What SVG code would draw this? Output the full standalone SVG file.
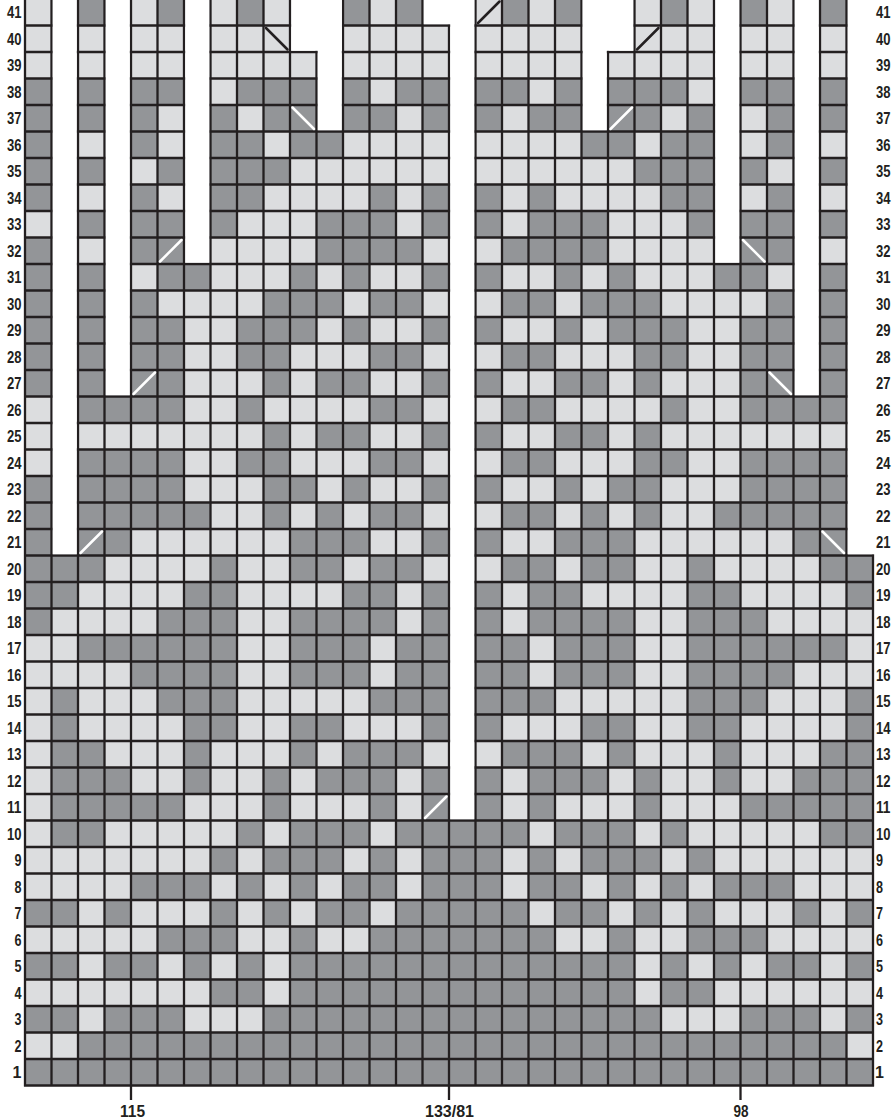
<svg xmlns="http://www.w3.org/2000/svg" width="893" height="1120" viewBox="0 0 893 1120">
<style>
.bg{fill:#dcdddf}
.dk{fill:#939598}
.grid{fill:none;stroke:#231f20;stroke-width:2.3}
.gap{fill:#fff}
.dw{stroke:#fff;stroke-width:2.5;stroke-linecap:round}
.db{stroke:#231f20;stroke-width:2.5;stroke-linecap:round}
.tick{fill:none;stroke:#231f20;stroke-width:2.3}
text{font-family:"Liberation Sans Narrow","Liberation Sans",sans-serif;font-weight:bold;font-size:16px;fill:#231f20}
.l{text-anchor:end}
.b{text-anchor:middle}
</style>
<rect width="893" height="1120" fill="#fff"/>
<g id="chart">
<rect class="bg" x="25" y="-1" width="848" height="1086.5"/>
<g id="dark-cells" class="dk">
<path id="r1" d="M25 1059h848v26.5h-848z"/>
<path id="r2" d="M78 1032.5h768.5v26.5h-768.5z"/>
<path id="r3" d="M25 1006h53v26.5h-53zM104.5 1006h79.5v26.5h-79.5zM263.5 1006h397.5v26.5h-397.5zM740.5 1006h79.5v26.5h-79.5zM846.5 1006h26.5v26.5h-26.5z"/>
<path id="r4" d="M210.5 979.5h53v26.5h-53zM290 979.5h344.5v26.5h-344.5zM661 979.5h53v26.5h-53z"/>
<path id="r5" d="M25 953h53v26.5h-53zM104.5 953h53v26.5h-53zM184 953h26.5v26.5h-26.5zM237 953h26.5v26.5h-26.5zM290 953h344.5v26.5h-344.5zM661 953h26.5v26.5h-26.5zM714 953h26.5v26.5h-26.5zM767 953h53v26.5h-53zM846.5 953h26.5v26.5h-26.5z"/>
<path id="r6" d="M157.5 926.5h79.5v26.5h-79.5zM290 926.5h26.5v26.5h-26.5zM369.5 926.5h185.5v26.5h-185.5zM608 926.5h26.5v26.5h-26.5zM687.5 926.5h79.5v26.5h-79.5z"/>
<path id="r7" d="M25 900h53v26.5h-53zM104.5 900h26.5v26.5h-26.5zM210.5 900h26.5v26.5h-26.5zM263.5 900h26.5v26.5h-26.5zM316.5 900h53v26.5h-53zM396 900h132.5v26.5h-132.5zM555 900h53v26.5h-53zM634.5 900h26.5v26.5h-26.5zM687.5 900h26.5v26.5h-26.5zM793.5 900h26.5v26.5h-26.5zM846.5 900h26.5v26.5h-26.5z"/>
<path id="r8" d="M131 873.5h79.5v26.5h-79.5zM237 873.5h26.5v26.5h-26.5zM290 873.5h26.5v26.5h-26.5zM343 873.5h53v26.5h-53zM422.5 873.5h79.5v26.5h-79.5zM528.5 873.5h53v26.5h-53zM608 873.5h26.5v26.5h-26.5zM661 873.5h26.5v26.5h-26.5zM714 873.5h79.5v26.5h-79.5z"/>
<path id="r9" d="M210.5 847h26.5v26.5h-26.5zM263.5 847h79.5v26.5h-79.5zM369.5 847h26.5v26.5h-26.5zM422.5 847h79.5v26.5h-79.5zM528.5 847h26.5v26.5h-26.5zM581.5 847h79.5v26.5h-79.5zM687.5 847h26.5v26.5h-26.5z"/>
<path id="r10" d="M51.5 820.5h53v26.5h-53zM237 820.5h26.5v26.5h-26.5zM290 820.5h79.5v26.5h-79.5zM396 820.5h132.5v26.5h-132.5zM555 820.5h79.5v26.5h-79.5zM661 820.5h26.5v26.5h-26.5zM820 820.5h53v26.5h-53z"/>
<path id="r11" d="M51.5 794h132.5v26.5h-132.5zM263.5 794h26.5v26.5h-26.5zM369.5 794h26.5v26.5h-26.5zM422.5 794h79.5v26.5h-79.5zM528.5 794h26.5v26.5h-26.5zM634.5 794h26.5v26.5h-26.5zM740.5 794h132.5v26.5h-132.5z"/>
<path id="r12" d="M51.5 767.5h79.5v26.5h-79.5zM184 767.5h26.5v26.5h-26.5zM263.5 767.5h26.5v26.5h-26.5zM316.5 767.5h79.5v26.5h-79.5zM422.5 767.5h79.5v26.5h-79.5zM528.5 767.5h79.5v26.5h-79.5zM634.5 767.5h26.5v26.5h-26.5zM714 767.5h26.5v26.5h-26.5zM793.5 767.5h79.5v26.5h-79.5z"/>
<path id="r13" d="M51.5 741h53v26.5h-53zM184 741h26.5v26.5h-26.5zM290 741h26.5v26.5h-26.5zM343 741h79.5v26.5h-79.5zM502 741h79.5v26.5h-79.5zM608 741h26.5v26.5h-26.5zM714 741h26.5v26.5h-26.5zM820 741h53v26.5h-53z"/>
<path id="r14" d="M51.5 714.5h26.5v26.5h-26.5zM184 714.5h53v26.5h-53zM290 714.5h53v26.5h-53zM422.5 714.5h79.5v26.5h-79.5zM581.5 714.5h53v26.5h-53zM687.5 714.5h53v26.5h-53zM846.5 714.5h26.5v26.5h-26.5z"/>
<path id="r15" d="M51.5 688h26.5v26.5h-26.5zM157.5 688h79.5v26.5h-79.5zM369.5 688h185.5v26.5h-185.5zM687.5 688h79.5v26.5h-79.5zM846.5 688h26.5v26.5h-26.5z"/>
<path id="r16" d="M131 661.5h106v26.5h-106zM290 661.5h79.5v26.5h-79.5zM396 661.5h132.5v26.5h-132.5zM555 661.5h79.5v26.5h-79.5zM687.5 661.5h106v26.5h-106z"/>
<path id="r17" d="M78 635h159v26.5h-159zM290 635h79.5v26.5h-79.5zM396 635h132.5v26.5h-132.5zM555 635h79.5v26.5h-79.5zM687.5 635h159v26.5h-159z"/>
<path id="r18" d="M25 608.5h26.5v26.5h-26.5zM157.5 608.5h79.5v26.5h-79.5zM290 608.5h106v26.5h-106zM422.5 608.5h79.5v26.5h-79.5zM528.5 608.5h106v26.5h-106zM687.5 608.5h79.5v26.5h-79.5z"/>
<path id="r19" d="M25 582h53v26.5h-53zM184 582h53v26.5h-53zM343 582h53v26.5h-53zM422.5 582h79.5v26.5h-79.5zM528.5 582h53v26.5h-53zM687.5 582h53v26.5h-53zM846.5 582h26.5v26.5h-26.5z"/>
<path id="r20" d="M25 555.5h79.5v26.5h-79.5zM210.5 555.5h26.5v26.5h-26.5zM290 555.5h53v26.5h-53zM369.5 555.5h53v26.5h-53zM502 555.5h53v26.5h-53zM581.5 555.5h53v26.5h-53zM687.5 555.5h26.5v26.5h-26.5zM820 555.5h53v26.5h-53z"/>
<path id="r21" d="M25 529h106v26.5h-106zM290 529h79.5v26.5h-79.5zM422.5 529h79.5v26.5h-79.5zM555 529h79.5v26.5h-79.5zM793.5 529h53v26.5h-53z"/>
<path id="r22" d="M25 502.5h185.5v26.5h-185.5zM263.5 502.5h26.5v26.5h-26.5zM316.5 502.5h26.5v26.5h-26.5zM369.5 502.5h53v26.5h-53zM502 502.5h53v26.5h-53zM581.5 502.5h26.5v26.5h-26.5zM634.5 502.5h26.5v26.5h-26.5zM714 502.5h132.5v26.5h-132.5z"/>
<path id="r23" d="M25 476h159v26.5h-159zM263.5 476h53v26.5h-53zM343 476h26.5v26.5h-26.5zM422.5 476h79.5v26.5h-79.5zM555 476h26.5v26.5h-26.5zM608 476h53v26.5h-53zM740.5 476h106v26.5h-106z"/>
<path id="r24" d="M51.5 449.5h132.5v26.5h-132.5zM237 449.5h53v26.5h-53zM369.5 449.5h53v26.5h-53zM502 449.5h53v26.5h-53zM634.5 449.5h53v26.5h-53zM740.5 449.5h106v26.5h-106z"/>
<path id="r25" d="M263.5 423h26.5v26.5h-26.5zM316.5 423h53v26.5h-53zM422.5 423h79.5v26.5h-79.5zM555 423h53v26.5h-53zM634.5 423h26.5v26.5h-26.5z"/>
<path id="r26" d="M78 396.5h106v26.5h-106zM237 396.5h26.5v26.5h-26.5zM369.5 396.5h53v26.5h-53zM502 396.5h53v26.5h-53zM661 396.5h26.5v26.5h-26.5zM740.5 396.5h106v26.5h-106z"/>
<path id="r27" d="M25 370h159v26.5h-159zM263.5 370h26.5v26.5h-26.5zM316.5 370h53v26.5h-53zM422.5 370h79.5v26.5h-79.5zM555 370h53v26.5h-53zM634.5 370h26.5v26.5h-26.5zM740.5 370h132.5v26.5h-132.5z"/>
<path id="r28" d="M25 343.5h159v26.5h-159zM237 343.5h53v26.5h-53zM369.5 343.5h53v26.5h-53zM502 343.5h53v26.5h-53zM634.5 343.5h53v26.5h-53zM740.5 343.5h132.5v26.5h-132.5z"/>
<path id="r29" d="M25 317h159v26.5h-159zM237 317h79.5v26.5h-79.5zM343 317h26.5v26.5h-26.5zM422.5 317h79.5v26.5h-79.5zM555 317h26.5v26.5h-26.5zM608 317h79.5v26.5h-79.5zM740.5 317h132.5v26.5h-132.5z"/>
<path id="r30" d="M25 290.5h132.5v26.5h-132.5zM263.5 290.5h79.5v26.5h-79.5zM369.5 290.5h53v26.5h-53zM502 290.5h53v26.5h-53zM581.5 290.5h79.5v26.5h-79.5zM767 290.5h106v26.5h-106z"/>
<path id="r31" d="M25 264h106v26.5h-106zM157.5 264h53v26.5h-53zM290 264h26.5v26.5h-26.5zM343 264h26.5v26.5h-26.5zM422.5 264h79.5v26.5h-79.5zM555 264h26.5v26.5h-26.5zM608 264h26.5v26.5h-26.5zM714 264h53v26.5h-53zM793.5 264h79.5v26.5h-79.5z"/>
<path id="r32" d="M25 237.5h53v26.5h-53zM104.5 237.5h106v26.5h-106zM316.5 237.5h106v26.5h-106zM502 237.5h106v26.5h-106zM714 237.5h106v26.5h-106z"/>
<path id="r33" d="M51.5 211h185.5v26.5h-185.5zM316.5 211h79.5v26.5h-79.5zM422.5 211h79.5v26.5h-79.5zM528.5 211h79.5v26.5h-79.5zM687.5 211h185.5v26.5h-185.5z"/>
<path id="r34" d="M25 184.5h53v26.5h-53zM104.5 184.5h53v26.5h-53zM184 184.5h79.5v26.5h-79.5zM369.5 184.5h26.5v26.5h-26.5zM422.5 184.5h79.5v26.5h-79.5zM528.5 184.5h26.5v26.5h-26.5zM661 184.5h79.5v26.5h-79.5zM767 184.5h53v26.5h-53z"/>
<path id="r35" d="M25 158h106v26.5h-106zM157.5 158h132.5v26.5h-132.5zM634.5 158h132.5v26.5h-132.5zM793.5 158h79.5v26.5h-79.5z"/>
<path id="r36" d="M25 131.5h53v26.5h-53zM104.5 131.5h53v26.5h-53zM184 131.5h79.5v26.5h-79.5zM290 131.5h53v26.5h-53zM581.5 131.5h53v26.5h-53zM661 131.5h79.5v26.5h-79.5zM767 131.5h53v26.5h-53z"/>
<path id="r37" d="M25 105h132.5v26.5h-132.5zM184 105h53v26.5h-53zM263.5 105h132.5v26.5h-132.5zM422.5 105h79.5v26.5h-79.5zM528.5 105h132.5v26.5h-132.5zM687.5 105h53v26.5h-53zM767 105h106v26.5h-106z"/>
<path id="r38" d="M25 78.5h185.5v26.5h-185.5zM237 78.5h132.5v26.5h-132.5zM396 78.5h132.5v26.5h-132.5zM555 78.5h132.5v26.5h-132.5zM714 78.5h159v26.5h-159z"/>
<path id="r41" d="M51.5 -1h79.5v26.5h-79.5zM157.5 -1h53v26.5h-53zM237 -1h26.5v26.5h-26.5zM290 -1h79.5v26.5h-79.5zM396 -1h79.5v26.5h-79.5zM502 -1h26.5v26.5h-26.5zM555 -1h79.5v26.5h-79.5zM661 -1h26.5v26.5h-26.5zM714 -1h53v26.5h-53zM793.5 -1h79.5v26.5h-79.5z"/>
</g>
<path id="grid-lines" class="grid" d="M24 1085.5H874M24 1059H874M24 1032.5H874M24 1006H874M24 979.5H874M24 953H874M24 926.5H874M24 900H874M24 873.5H874M24 847H874M24 820.5H874M24 794H874M24 767.5H874M24 741H874M24 714.5H874M24 688H874M24 661.5H874M24 635H874M24 608.5H874M24 582H874M24 555.5H874M24 529H874M24 502.5H874M24 476H874M24 449.5H874M24 423H874M24 396.5H874M24 370H874M24 343.5H874M24 317H874M24 290.5H874M24 264H874M24 237.5H874M24 211H874M24 184.5H874M24 158H874M24 131.5H874M24 105H874M24 78.5H874M24 52H874M24 25.5H874M25 -2V1086.5M51.5 -2V1086.5M78 -2V1086.5M104.5 -2V1086.5M131 -2V1086.5M157.5 -2V1086.5M184 -2V1086.5M210.5 -2V1086.5M237 -2V1086.5M263.5 -2V1086.5M290 -2V1086.5M316.5 -2V1086.5M343 -2V1086.5M369.5 -2V1086.5M396 -2V1086.5M422.5 -2V1086.5M449 -2V1086.5M475.5 -2V1086.5M502 -2V1086.5M528.5 -2V1086.5M555 -2V1086.5M581.5 -2V1086.5M608 -2V1086.5M634.5 -2V1086.5M661 -2V1086.5M687.5 -2V1086.5M714 -2V1086.5M740.5 -2V1086.5M767 -2V1086.5M793.5 -2V1086.5M820 -2V1086.5M846.5 -2V1086.5M873 -2V1086.5"/>
<g id="gaps" class="gap">
<rect x="52.7" y="-2" width="24.1" height="556.3"/>
<rect x="105.7" y="-2" width="24.1" height="397.3"/>
<rect x="185.2" y="-2" width="24.1" height="264.8"/>
<rect x="291.2" y="-2" width="50.6" height="52.8"/>
<rect x="317.7" y="-2" width="24.1" height="132.3"/>
<rect x="423.7" y="-2" width="50.6" height="26.3"/>
<rect x="450.2" y="-2" width="24.1" height="821.3"/>
<rect x="582.7" y="-2" width="50.6" height="52.8"/>
<rect x="582.7" y="-2" width="24.1" height="132.3"/>
<rect x="715.2" y="-2" width="24.1" height="264.8"/>
<rect x="794.7" y="-2" width="24.1" height="397.3"/>
<rect x="847.7" y="-2" width="27.3" height="556.3"/>
</g>
<g id="decreases">
<line class="dw" x1="425" y1="818" x2="446.5" y2="796.5"/>
<line class="dw" x1="80.5" y1="553" x2="102" y2="531.5"/>
<line class="dw" x1="133.5" y1="394" x2="155" y2="372.5"/>
<line class="dw" x1="160" y1="261.5" x2="181.5" y2="240"/>
<line class="dw" x1="292.5" y1="107.5" x2="314" y2="129"/>
<line class="db" x1="266" y1="28" x2="287.5" y2="49.5"/>
<line class="db" x1="478" y1="23" x2="499.5" y2="1.5"/>
<line class="db" x1="637" y1="49.5" x2="658.5" y2="28"/>
<line class="dw" x1="610.5" y1="129" x2="632" y2="107.5"/>
<line class="dw" x1="743" y1="240" x2="764.5" y2="261.5"/>
<line class="dw" x1="769.5" y1="372.5" x2="791" y2="394"/>
<line class="dw" x1="822.5" y1="531.5" x2="844" y2="553"/>
</g>
</g>
<g id="row-labels-left">
<text class="l" x="21.5" y="1078">1</text>
<text class="l" x="21.5" y="1051.5" textLength="7" lengthAdjust="spacingAndGlyphs">2</text>
<text class="l" x="21.5" y="1025" textLength="7" lengthAdjust="spacingAndGlyphs">3</text>
<text class="l" x="21.5" y="998.5" textLength="7" lengthAdjust="spacingAndGlyphs">4</text>
<text class="l" x="21.5" y="972" textLength="7" lengthAdjust="spacingAndGlyphs">5</text>
<text class="l" x="21.5" y="945.5" textLength="7" lengthAdjust="spacingAndGlyphs">6</text>
<text class="l" x="21.5" y="919" textLength="7" lengthAdjust="spacingAndGlyphs">7</text>
<text class="l" x="21.5" y="892.5" textLength="7" lengthAdjust="spacingAndGlyphs">8</text>
<text class="l" x="21.5" y="866" textLength="7" lengthAdjust="spacingAndGlyphs">9</text>
<text class="l" x="21.5" y="839.5" textLength="14.5" lengthAdjust="spacingAndGlyphs">10</text>
<text class="l" x="21.5" y="813" textLength="14.5" lengthAdjust="spacingAndGlyphs">11</text>
<text class="l" x="21.5" y="786.5" textLength="14.5" lengthAdjust="spacingAndGlyphs">12</text>
<text class="l" x="21.5" y="760" textLength="14.5" lengthAdjust="spacingAndGlyphs">13</text>
<text class="l" x="21.5" y="733.5" textLength="14.5" lengthAdjust="spacingAndGlyphs">14</text>
<text class="l" x="21.5" y="707" textLength="14.5" lengthAdjust="spacingAndGlyphs">15</text>
<text class="l" x="21.5" y="680.5" textLength="14.5" lengthAdjust="spacingAndGlyphs">16</text>
<text class="l" x="21.5" y="654" textLength="14.5" lengthAdjust="spacingAndGlyphs">17</text>
<text class="l" x="21.5" y="627.5" textLength="14.5" lengthAdjust="spacingAndGlyphs">18</text>
<text class="l" x="21.5" y="601" textLength="14.5" lengthAdjust="spacingAndGlyphs">19</text>
<text class="l" x="21.5" y="574.5" textLength="14.5" lengthAdjust="spacingAndGlyphs">20</text>
<text class="l" x="21.5" y="548" textLength="14.5" lengthAdjust="spacingAndGlyphs">21</text>
<text class="l" x="21.5" y="521.5" textLength="14.5" lengthAdjust="spacingAndGlyphs">22</text>
<text class="l" x="21.5" y="495" textLength="14.5" lengthAdjust="spacingAndGlyphs">23</text>
<text class="l" x="21.5" y="468.5" textLength="14.5" lengthAdjust="spacingAndGlyphs">24</text>
<text class="l" x="21.5" y="442" textLength="14.5" lengthAdjust="spacingAndGlyphs">25</text>
<text class="l" x="21.5" y="415.5" textLength="14.5" lengthAdjust="spacingAndGlyphs">26</text>
<text class="l" x="21.5" y="389" textLength="14.5" lengthAdjust="spacingAndGlyphs">27</text>
<text class="l" x="21.5" y="362.5" textLength="14.5" lengthAdjust="spacingAndGlyphs">28</text>
<text class="l" x="21.5" y="336" textLength="14.5" lengthAdjust="spacingAndGlyphs">29</text>
<text class="l" x="21.5" y="309.5" textLength="14.5" lengthAdjust="spacingAndGlyphs">30</text>
<text class="l" x="21.5" y="283" textLength="14.5" lengthAdjust="spacingAndGlyphs">31</text>
<text class="l" x="21.5" y="256.5" textLength="14.5" lengthAdjust="spacingAndGlyphs">32</text>
<text class="l" x="21.5" y="230" textLength="14.5" lengthAdjust="spacingAndGlyphs">33</text>
<text class="l" x="21.5" y="203.5" textLength="14.5" lengthAdjust="spacingAndGlyphs">34</text>
<text class="l" x="21.5" y="177" textLength="14.5" lengthAdjust="spacingAndGlyphs">35</text>
<text class="l" x="21.5" y="150.5" textLength="14.5" lengthAdjust="spacingAndGlyphs">36</text>
<text class="l" x="21.5" y="124" textLength="14.5" lengthAdjust="spacingAndGlyphs">37</text>
<text class="l" x="21.5" y="97.5" textLength="14.5" lengthAdjust="spacingAndGlyphs">38</text>
<text class="l" x="21.5" y="71" textLength="14.5" lengthAdjust="spacingAndGlyphs">39</text>
<text class="l" x="21.5" y="44.5" textLength="14.5" lengthAdjust="spacingAndGlyphs">40</text>
<text class="l" x="21.5" y="18" textLength="14.5" lengthAdjust="spacingAndGlyphs">41</text>
</g>
<g id="row-labels-right">
<text x="875" y="1078">1</text>
<text x="876" y="1051.5" textLength="7" lengthAdjust="spacingAndGlyphs">2</text>
<text x="876" y="1025" textLength="7" lengthAdjust="spacingAndGlyphs">3</text>
<text x="876" y="998.5" textLength="7" lengthAdjust="spacingAndGlyphs">4</text>
<text x="876" y="972" textLength="7" lengthAdjust="spacingAndGlyphs">5</text>
<text x="876" y="945.5" textLength="7" lengthAdjust="spacingAndGlyphs">6</text>
<text x="876" y="919" textLength="7" lengthAdjust="spacingAndGlyphs">7</text>
<text x="876" y="892.5" textLength="7" lengthAdjust="spacingAndGlyphs">8</text>
<text x="876" y="866" textLength="7" lengthAdjust="spacingAndGlyphs">9</text>
<text x="876" y="839.5" textLength="14.5" lengthAdjust="spacingAndGlyphs">10</text>
<text x="876" y="813" textLength="14.5" lengthAdjust="spacingAndGlyphs">11</text>
<text x="876" y="786.5" textLength="14.5" lengthAdjust="spacingAndGlyphs">12</text>
<text x="876" y="760" textLength="14.5" lengthAdjust="spacingAndGlyphs">13</text>
<text x="876" y="733.5" textLength="14.5" lengthAdjust="spacingAndGlyphs">14</text>
<text x="876" y="707" textLength="14.5" lengthAdjust="spacingAndGlyphs">15</text>
<text x="876" y="680.5" textLength="14.5" lengthAdjust="spacingAndGlyphs">16</text>
<text x="876" y="654" textLength="14.5" lengthAdjust="spacingAndGlyphs">17</text>
<text x="876" y="627.5" textLength="14.5" lengthAdjust="spacingAndGlyphs">18</text>
<text x="876" y="601" textLength="14.5" lengthAdjust="spacingAndGlyphs">19</text>
<text x="876" y="574.5" textLength="14.5" lengthAdjust="spacingAndGlyphs">20</text>
<text x="876" y="548" textLength="14.5" lengthAdjust="spacingAndGlyphs">21</text>
<text x="876" y="521.5" textLength="14.5" lengthAdjust="spacingAndGlyphs">22</text>
<text x="876" y="495" textLength="14.5" lengthAdjust="spacingAndGlyphs">23</text>
<text x="876" y="468.5" textLength="14.5" lengthAdjust="spacingAndGlyphs">24</text>
<text x="876" y="442" textLength="14.5" lengthAdjust="spacingAndGlyphs">25</text>
<text x="876" y="415.5" textLength="14.5" lengthAdjust="spacingAndGlyphs">26</text>
<text x="876" y="389" textLength="14.5" lengthAdjust="spacingAndGlyphs">27</text>
<text x="876" y="362.5" textLength="14.5" lengthAdjust="spacingAndGlyphs">28</text>
<text x="876" y="336" textLength="14.5" lengthAdjust="spacingAndGlyphs">29</text>
<text x="876" y="309.5" textLength="14.5" lengthAdjust="spacingAndGlyphs">30</text>
<text x="876" y="283" textLength="14.5" lengthAdjust="spacingAndGlyphs">31</text>
<text x="876" y="256.5" textLength="14.5" lengthAdjust="spacingAndGlyphs">32</text>
<text x="876" y="230" textLength="14.5" lengthAdjust="spacingAndGlyphs">33</text>
<text x="876" y="203.5" textLength="14.5" lengthAdjust="spacingAndGlyphs">34</text>
<text x="876" y="177" textLength="14.5" lengthAdjust="spacingAndGlyphs">35</text>
<text x="876" y="150.5" textLength="14.5" lengthAdjust="spacingAndGlyphs">36</text>
<text x="876" y="124" textLength="14.5" lengthAdjust="spacingAndGlyphs">37</text>
<text x="876" y="97.5" textLength="14.5" lengthAdjust="spacingAndGlyphs">38</text>
<text x="876" y="71" textLength="14.5" lengthAdjust="spacingAndGlyphs">39</text>
<text x="876" y="44.5" textLength="14.5" lengthAdjust="spacingAndGlyphs">40</text>
<text x="876" y="18" textLength="14.5" lengthAdjust="spacingAndGlyphs">41</text>
</g>
<g id="stitch-markers">
<path class="tick" d="M131 1085.5V1100M449 1085.5V1100M740.5 1085.5V1100"/>
<text class="b" x="132.5" y="1117" textLength="25" lengthAdjust="spacingAndGlyphs">115</text>
<text class="b" x="449.5" y="1117" textLength="49" lengthAdjust="spacingAndGlyphs">133/81</text>
<text class="b" x="741" y="1117" textLength="15" lengthAdjust="spacingAndGlyphs">98</text>
</g>
</svg>
